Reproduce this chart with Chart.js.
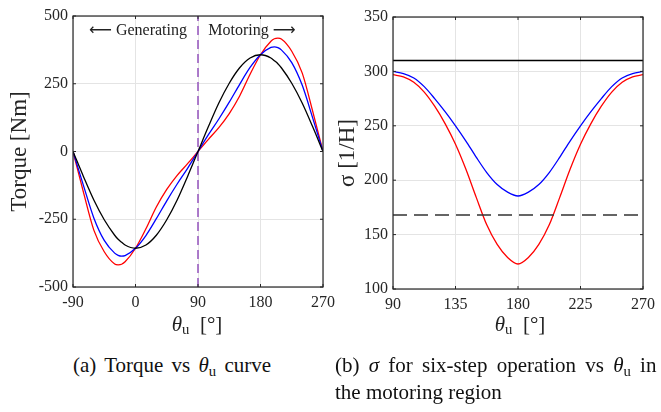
<!DOCTYPE html>
<html>
<head>
<meta charset="utf-8">
<script src="https://cdn.jsdelivr.net/npm/chart.js@4.4.1/dist/chart.umd.min.js"></script>
<style>
  body { margin: 0; background: #fff; }
  #wrap { position: relative; width: 661px; height: 412px; overflow: hidden; font-family: 'Liberation Serif', serif; color: #222; }
  canvas { position: absolute; top: 0; }
  .lbl { position: absolute; white-space: nowrap; transform: translate(-50%, -50%); }
  .cap { position: absolute; white-space: nowrap; font-size: 21px; line-height: 27px; color: #111; }
  sub { font-size: 0.7em; vertical-align: -0.25em; line-height: 0; }
</style>
</head>
<body>
<div id="wrap">
  <canvas id="torque" width="345" height="330" style="left:0"></canvas>
  <canvas id="sigma" width="331" height="330" style="left:330px"></canvas>

  <div class="lbl" style="left:138px;top:29px;font-size:16px"><span style="font-family:'DejaVu Sans'">&#x27F5;</span> Generating</div>
  <div class="lbl" style="left:252px;top:29px;font-size:16px">Motoring <span style="font-family:'DejaVu Sans'">&#x27F6;</span></div>

  <div class="lbl" style="left:197px;top:324px;font-size:21px"><i>θ</i><sub>u</sub>&nbsp; [°]</div>
  <div class="lbl" style="left:520px;top:324px;font-size:21px"><i>θ</i><sub>u</sub>&nbsp; [°]</div>

  <div class="cap" style="left:73px;top:352px;word-spacing:3px">(a) Torque vs <i>θ</i><sub>u</sub> curve</div>
  <div class="cap" style="left:335px;top:352px;word-spacing:4px">(b) <i>σ</i> for six-step operation vs <i>θ</i><sub>u</sub> in<br>
    <span style="word-spacing:0">the motoring region</span></div>
</div>

<script>
// (a) torque vs theta_u
const thetaA = [-90, -75, -60, -45, -30, -25, -20, -15, 0, 15, 30, 45, 60, 75, 90,
  105, 120, 135, 150, 165, 180, 195, 200, 205, 210, 225, 240, 255, 270];
const torqueBlack = [0, -92, -179, -252, -309, -324, -335, -345, -357, -345, -309, -252, -179, -92, 0,
  92, 179, 252, 309, 345, 357, 345, 335, 324, 309, 252, 179, 92, 0];
const torqueBlue = [0, -125, -245, -328, -375, -383, -386, -384, -357, -310, -248, -182, -120, -62, 0,
  62, 120, 182, 248, 310, 357, 384, 386, 383, 375, 328, 245, 125, 0];
const torqueRed = [0, -150, -290, -370, -415, -418, -416, -407, -357, -285, -205, -140, -88, -45, 0,
  45, 88, 140, 205, 285, 357, 407, 416, 418, 415, 370, 290, 150, 0];
const boundaryTheta = 90;

// (b) sigma vs theta_u, motoring region
const thetaB = [90, 97.5, 105, 112.5, 120, 127.5, 135, 142.5, 150, 157.5, 165, 172.5, 180,
  187.5, 195, 202.5, 210, 217.5, 225, 232.5, 240, 247.5, 255, 262.5, 270];
const sigmaBlue = [300, 298, 294, 286, 275, 263, 250, 236, 221, 207, 196, 189, 185.5,
  189, 196, 207, 221, 236, 250, 263, 275, 286, 294, 298, 300];
const sigmaRed = [297, 295, 290, 281, 268, 252, 233, 210, 184, 159, 141, 129, 123,
  129, 141, 159, 184, 210, 233, 252, 268, 281, 290, 295, 297];
const sigmaUpper = 310;
const sigmaThreshold = 168;

const tickFont = { family: 'Liberation Serif', size: 16 };
const gridColor = '#e4e4e4';
const axisColor = '#262626';

const pts = (xs, ys) => xs.map((x, i) => ({ x, y: ys[i] }));

// box round the axes plus small inward ticks, like matlab
const boxPlugin = {
  id: 'box',
  afterDraw(chart) {
    const { ctx, chartArea: a, scales } = chart;
    ctx.save();
    ctx.strokeStyle = axisColor;
    ctx.lineWidth = 1.2;
    ctx.strokeRect(a.left, a.top, a.right - a.left, a.bottom - a.top);
    ctx.lineWidth = 1;
    ctx.beginPath();
    scales.x.ticks.forEach(t => {
      const px = scales.x.getPixelForValue(t.value);
      ctx.moveTo(px, a.bottom); ctx.lineTo(px, a.bottom - 3);
      ctx.moveTo(px, a.top); ctx.lineTo(px, a.top + 3);
    });
    scales.y.ticks.forEach(t => {
      const py = scales.y.getPixelForValue(t.value);
      ctx.moveTo(a.left, py); ctx.lineTo(a.left + 3, py);
      ctx.moveTo(a.right, py); ctx.lineTo(a.right - 3, py);
    });
    ctx.stroke();
    ctx.restore();
  }
};

function line(label, data, color, extra) {
  return Object.assign({
    label, data, borderColor: color, borderWidth: 1.3,
    pointRadius: 0, fill: false, cubicInterpolationMode: 'monotone'
  }, extra || {});
}

function axes(xMin, xMax, xStep, yMin, yMax, yStep, yTitle, yWidth, xHeight, titlePad) {
  return {
    x: {
      type: 'linear', min: xMin, max: xMax,
      ticks: { stepSize: xStep, color: axisColor, font: tickFont, padding: 6, maxRotation: 0 },
      grid: { color: gridColor, drawTicks: false },
      border: { display: false },
      afterFit: s => { s.height = xHeight; }
    },
    y: {
      min: yMin, max: yMax,
      ticks: { stepSize: yStep, color: axisColor, font: tickFont, padding: 5 },
      grid: { color: gridColor, drawTicks: false },
      border: { display: false },
      title: {
        display: true, text: yTitle, color: axisColor,
        font: { family: 'Liberation Serif', size: 23 }, padding: { top: titlePad, bottom: 0 }
      },
      afterFit: s => { s.width = yWidth; }
    }
  };
}

new Chart(document.getElementById('torque'), {
  type: 'line',
  data: {
    datasets: [
      line('black', pts(thetaA, torqueBlack), '#000000'),
      line('blue', pts(thetaA, torqueBlue), '#0000ff'),
      line('red', pts(thetaA, torqueRed), '#ff0000'),
      line('boundary', [{ x: boundaryTheta, y: -500 }, { x: boundaryTheta, y: 500 }], '#9a5cc0',
        { borderWidth: 1.6, borderDash: [9, 5], cubicInterpolationMode: 'default' })
    ]
  },
  options: {
    responsive: false,
    animation: false,
    layout: { padding: { top: 16, right: 22, left: 0, bottom: 0 } },
    scales: axes(-90, 270, 90, -500, 500, 250, 'Torque [Nm]', 73, 43, 6),
    plugins: { legend: { display: false }, tooltip: { enabled: false } }
  },
  plugins: [boxPlugin]
});

new Chart(document.getElementById('sigma'), {
  type: 'line',
  data: {
    datasets: [
      line('upper', [{ x: 90, y: sigmaUpper }, { x: 270, y: sigmaUpper }], '#000000', { borderWidth: 1.5 }),
      line('threshold', [{ x: 90, y: sigmaThreshold }, { x: 270, y: sigmaThreshold }], '#333333',
        { borderWidth: 1.4, borderDash: [14, 7] }),
      line('blue', pts(thetaB, sigmaBlue), '#0000ff'),
      line('red', pts(thetaB, sigmaRed), '#ff0000')
    ]
  },
  options: {
    responsive: false,
    animation: false,
    layout: { padding: { top: 17, right: 12, left: 0, bottom: 0 } },
    scales: axes(90, 270, 45, 100, 350, 50, 'σ [1/H]', 63, 41, 4),
    plugins: { legend: { display: false }, tooltip: { enabled: false } }
  },
  plugins: [boxPlugin]
});
</script>
</body>
</html>
